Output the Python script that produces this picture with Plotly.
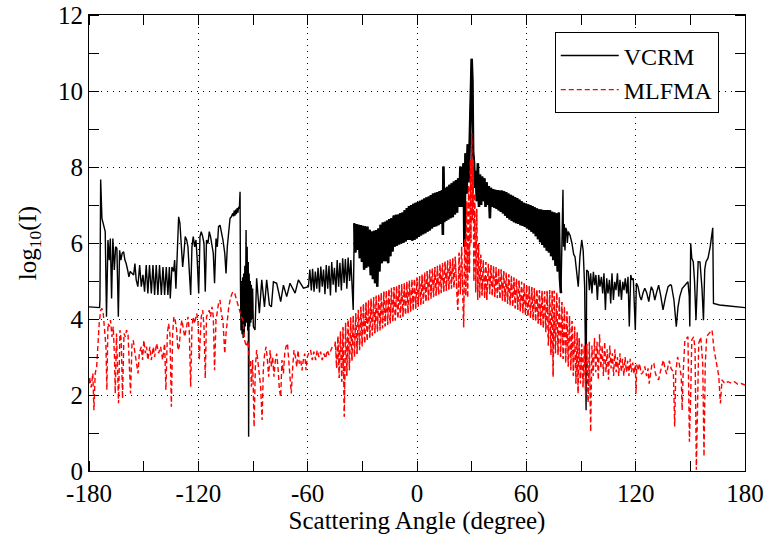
import plotly.graph_objects as go

# ---------------- VCRM (black, solid) ----------------
VCRM_A = [(-180.0,4.32),(-177.0,4.31),(-174.2,4.30),(-174.0,4.50),(-173.6,7.67),(-172.9,6.65),(-171.8,6.39),
(-171.1,6.30),(-170.4,4.06),(-169.6,6.08),(-168.9,5.55),(-168.3,6.12),(-167.6,4.54),(-166.9,6.12),(-166.1,5.29),
(-165.4,5.90),(-164.7,5.86),(-163.9,4.06),(-163.2,5.81),(-162.5,5.55),(-161.8,5.73),(-161.0,5.77),(-160.3,5.55),
(-159.6,5.46),(-158.8,5.29),(-158.1,5.11),(-157.4,5.25),(-156.4,5.20),(-155.5,5.16),(-154.8,5.46),(-154.1,5.03),
(-153.2,4.85),(-152.2,5.42),(-151.3,4.85),(-150.4,5.16),(-149.5,4.72),(-148.6,5.42),(-147.7,4.67),(-146.8,5.42),
(-145.8,4.67),(-144.9,5.42),(-144.0,4.63),(-143.1,5.42),(-142.2,4.63),(-141.3,5.42),(-140.3,4.63),(-139.4,5.37),
(-138.5,4.63),(-137.6,5.37),(-136.7,4.63),(-135.9,5.37),(-135.4,4.54),(-134.5,5.37),(-133.6,5.25),(-133.0,5.55),
(-132.3,4.80),(-131.6,5.99),(-130.8,6.69),(-130.1,6.52),(-129.4,5.99),(-128.6,5.37),(-127.9,5.73),(-127.2,6.17),
(-126.4,6.08),(-125.7,5.90),(-125.0,5.29),(-124.2,4.63),(-123.5,5.90),(-122.8,6.17),(-122.0,5.90),(-121.3,6.08),
(-120.6,5.55),(-119.8,4.67),(-119.1,6.17),(-118.4,6.30),(-117.6,6.17),(-116.9,5.99),(-116.2,4.72),(-115.5,6.08),
(-114.7,5.99),(-114.0,6.30),(-113.3,6.17),(-112.5,5.90),(-111.8,5.73),(-111.1,4.94),(-110.3,6.12),(-109.6,5.90),
(-108.9,6.43),(-108.1,6.47),(-107.4,6.30),(-106.5,6.08),(-105.5,5.73),(-104.8,5.20),(-104.1,5.90),(-103.3,6.43),
(-102.6,6.65),(-101.9,6.69),(-101.1,6.78),(-100.7,6.70),(-100.3,6.85),(-99.9,6.72),(-99.5,6.88),(-99.1,6.76),
(-98.7,6.92),(-98.3,6.80),(-97.9,6.95),(-97.5,6.90),(-97.1,7.35),(-96.9,5.03),(-96.6,3.70),(-96.3,5.00),
(-96.0,3.60),(-95.7,5.10),(-95.4,3.50),(-95.1,5.20),(-94.8,3.60),(-94.5,5.40),(-94.2,3.80),(-93.8,6.34),
(-93.5,3.90),(-93.2,5.90),(-92.9,3.70),(-92.6,5.50),(-92.4,0.90),(-92.1,5.20),(-91.8,3.80),(-91.5,5.00),
(-91.2,3.90),(-90.9,4.90),(-90.6,4.00),(-90.2,4.80),(-89.8,3.80),(-88.9,3.71),(-88.0,5.07),(-86.5,4.15),
(-85.2,5.03),(-83.7,4.32),(-82.5,5.03),(-81.0,4.37),(-79.9,4.32),(-78.8,4.98),(-77.0,4.94),(-74.8,4.46),
(-73.3,4.89),(-71.5,4.59),(-69.7,4.94),(-66.9,4.68),(-65.1,5.03),(-62.3,4.81),(-59.6,4.85),
(-58.8,5.30),(-58.0,4.75),(-57.3,5.32),(-56.5,4.72),(-55.8,5.25),(-55.0,4.80),(-54.3,5.35),(-53.5,4.70),
(-52.8,5.38),(-52.0,4.85),(-51.3,5.30),(-50.5,4.65),(-49.8,5.42),(-49.0,4.80),(-48.3,5.40),(-47.5,4.62),
(-46.8,5.50),(-46.0,4.90),(-45.3,5.35),(-44.5,4.70),(-43.8,5.55),(-43.0,4.85),(-42.3,5.48),(-41.5,4.75),
(-40.8,5.60),(-40.0,4.95),(-39.3,5.58),(-38.5,4.80),(-37.8,5.62),(-37.0,5.00),(-36.3,5.55),(-35.6,4.90),
(-35.0,4.24)]

VCRM_B = [(-34.4,6.52),(-33.8,5.75),(-33.2,6.50),(-32.6,5.82),(-32.0,6.48),(-31.4,5.60),(-30.8,6.47),(-30.2,5.50),
(-29.6,6.45),(-29.0,5.30),(-28.4,6.44),(-27.8,5.35),(-27.2,6.43),(-26.6,5.38),(-26.0,6.35),(-25.4,5.15),
(-24.8,6.30),(-24.2,5.05),(-23.6,6.32),(-23.0,4.94),(-22.4,6.34),(-21.8,4.85),(-21.2,6.38),(-20.6,5.25),
(-20.0,6.48),(-19.4,5.47),(-18.8,6.54),(-18.2,5.52),(-17.6,6.56),(-17.0,5.52),(-16.4,6.59),(-15.8,5.47),
(-15.2,6.63),(-14.6,5.65),(-14.0,6.66),(-13.4,5.78),(-12.8,6.72),(-12.2,5.90),(-11.6,6.74),(-11.0,5.93),
(-10.4,6.75),(-9.8,5.96),(-9.2,6.78),(-8.6,5.99),(-8.0,6.80),(-7.4,6.01),(-6.8,6.86),(-6.2,6.04),
(-5.6,6.92),(-5.0,6.08),(-4.4,6.97),(-3.8,6.08),(-3.2,7.00),(-2.6,6.06),(-2.0,7.03),(-1.4,6.08),
(-0.8,7.06),(-0.2,6.12),(0.4,7.08),(1.0,6.16),(1.6,7.11),(2.2,6.20),(2.8,7.14),(3.4,6.23),
(4.0,7.17),(4.6,6.26),(5.2,7.20),(5.8,6.30),(6.4,7.22),(7.0,6.33),(7.6,7.26),(8.2,6.38),
(8.8,7.30),(9.4,6.42),(10.0,7.32),(10.6,6.44),(11.2,7.34),(11.8,6.47),(12.4,7.37),(13.0,6.50),
(13.6,7.39),(14.2,6.21),(14.5,8.01),(15.0,6.55),(15.4,7.45),(16.0,6.58),(16.6,7.48),(17.2,6.62),
(17.8,7.53),(18.4,6.65),(19.0,7.57),(19.6,6.68),(20.2,7.62),(20.8,6.75),(21.4,7.66),(22.0,6.80),
(22.6,7.70),(23.2,6.95),(23.8,8.01),(24.4,6.95),(25.0,7.85),(25.6,8.10),(26.0,5.90),(26.6,8.36),
(27.2,7.30),(27.8,8.60),(28.4,7.60),(29.0,9.20),(29.5,9.90),(30.0,10.85),(30.4,10.30),(30.8,8.40),
(31.3,8.10),(31.8,7.45),(32.3,7.90),(32.8,7.10),(33.4,8.10),(34.0,6.95),(34.6,7.80),(35.2,7.00),
(35.8,7.75),(36.4,7.10),(37.0,7.70),(37.6,6.95),(38.2,7.60),(38.8,7.00),(39.4,7.50),(40.0,6.65),
(40.6,7.45),(41.2,6.95),(41.8,7.42),(42.4,6.93),(43.0,7.40),(43.6,6.90),(44.2,7.39),(44.8,6.86),
(45.4,7.38),(46.0,6.82),(46.6,7.38),(47.2,6.78),(47.8,7.36),(48.4,6.72),(49.0,7.34),(49.6,6.66),
(50.2,7.30),(50.8,6.62),(51.4,7.27),(52.0,6.58),(52.6,7.24),(53.2,6.55),(53.8,7.21),(54.4,6.52),
(55.0,7.18),(55.6,6.50),(56.2,7.14),(56.8,6.47),(57.4,7.10),(58.0,6.45),(58.6,7.06),(59.2,6.42),
(59.8,7.04),(60.4,6.38),(61.0,7.02),(61.6,6.35),(62.2,7.00),(62.8,6.30),(63.4,6.97),(64.0,6.25),
(64.6,6.94),(65.2,6.18),(65.8,6.91),(66.4,6.10),(67.0,6.89),(67.6,6.02),(68.2,6.88),(68.8,5.95),
(69.4,6.87),(70.0,5.88),(70.6,6.87),(71.2,5.80),(71.8,6.87),(72.4,5.75),(73.0,6.86),(73.6,5.65),
(74.2,6.82),(74.8,5.55),(75.4,6.80),(76.0,5.40),(76.6,6.78),(77.2,5.25),(77.8,6.80),(78.4,5.10),
(79.0,4.68)]

VCRM_C = [(79.6,6.20),(80.1,7.40),(80.4,5.90),(80.8,6.50),(81.2,5.80),(81.6,6.40),(82.1,6.34),(82.5,6.00),
(83.0,6.30),(84.0,6.20),(85.0,6.00),(86.0,5.70),(86.7,5.64),(87.6,5.20),(88.5,4.85),(89.4,5.64),
(90.4,6.08),(91.2,5.80),(92.0,4.85),(92.8,1.60),(93.1,5.29),(94.0,5.24),(94.6,4.76),(95.3,5.20),
(96.0,4.67),(96.8,5.24),(97.5,4.89),(98.2,5.16),(99.0,4.50),(99.7,5.16),(100.4,4.85),(101.2,5.11),
(101.9,4.67),(102.6,5.20),(103.4,4.24),(104.1,5.07),(104.8,4.67),(105.6,5.03),(106.3,4.41),(107.0,5.20),
(107.8,4.50),(108.5,4.98),(109.2,4.76),(110.0,5.20),(110.7,4.59),(111.4,5.03),(112.2,4.50),(112.9,4.98),
(113.6,4.76),(114.3,5.07),(115.1,4.67),(115.8,5.11),(116.5,3.80),(117.3,5.16),(118.0,5.03),(118.7,5.07),
(119.5,4.06),(119.8,3.71),(120.4,4.94),(121.3,4.85),(122.3,4.60),(123.1,4.50),(124.1,4.70),(125.0,4.81),
(126.0,4.70),(127.2,4.46),(128.0,4.70),(128.6,4.85),(129.5,4.75),(130.5,4.50),(131.5,4.70),(132.6,4.89),
(133.8,4.60),(135.0,4.24),(136.5,4.60),(137.8,4.85),(139.0,4.90),(139.6,4.89),(141.0,4.50),(142.3,3.80),
(143.2,4.30),(144.2,4.59),(145.5,4.80),(146.9,4.89),(148.7,4.98),(149.4,4.60),(149.7,3.80),(150.2,5.99),
(150.8,5.60),(151.6,5.51),(152.3,5.00),(153.1,3.97),(153.8,5.30),(154.3,5.51),(155.3,5.50),(156.4,4.80),
(157.2,3.97),(157.9,5.30),(158.6,5.51),(159.7,5.60),(160.9,5.90),(161.6,6.15),(162.3,6.40),(162.7,4.41),
(166.0,4.37),(170.0,4.35),(175.0,4.32),(180.0,4.30)]

# ---------------- MLFMA (red, dashed) ----------------
MLFMA_A = [(-180.0,2.30),(-179.7,2.48),(-178.8,2.20),(-177.9,2.57),(-177.3,1.60),(-176.6,2.57),(-175.8,2.74),
(-175.1,3.44),(-174.4,3.88),(-173.6,4.23),(-172.9,4.28),(-172.2,4.15),(-171.5,3.80),(-170.7,3.27),(-170.2,2.13),
(-169.6,3.88),(-168.9,3.80),(-168.2,3.97),(-167.4,3.53),(-166.7,3.80),(-166.0,3.00),(-165.6,2.04),(-164.9,3.62),
(-164.5,3.10),(-163.8,1.78),(-163.0,3.71),(-162.3,3.44),(-161.6,1.91),(-160.8,3.62),(-160.1,3.53),(-159.4,3.71),
(-158.6,3.62),(-157.9,3.00),(-157.2,2.04),(-156.4,3.36),(-155.7,3.44),(-155.0,3.18),(-154.3,2.92),(-153.1,2.57),
(-152.4,3.10),(-151.3,3.27),(-150.6,2.92),(-149.9,3.44),(-149.1,3.10),(-148.4,3.27),(-147.7,2.92),(-146.6,3.27),
(-145.8,2.92),(-144.7,3.27),(-144.0,3.00),(-142.9,3.36),(-141.8,3.10),(-140.7,3.27),(-139.6,2.92),(-138.5,3.36),
(-137.8,2.13),(-137.0,3.62),(-136.3,3.88),(-135.6,3.62),(-134.8,1.69),(-134.1,3.62),(-133.4,4.06),(-132.7,3.97),
(-131.9,3.71),(-131.2,3.18),(-130.5,3.27),(-129.7,3.80),(-129.0,3.97),(-128.3,3.71),(-127.5,3.53),(-126.4,3.80),
(-125.7,4.06),(-125.0,3.71),(-124.2,2.22),(-123.5,3.80),(-122.8,4.06),(-122.0,3.88),(-120.9,4.15),(-120.2,3.97),
(-119.5,2.92),(-118.4,4.06),(-117.6,4.23),(-116.9,3.80),(-116.2,2.44),(-115.5,4.06),(-114.7,4.15),(-114.0,4.23),
(-113.3,4.06),(-112.5,4.32),(-111.8,4.06),(-111.1,2.65),(-110.3,3.97),(-109.6,4.23),(-108.9,4.41),(-108.1,4.50),
(-107.4,4.15),(-106.5,3.97),(-105.5,3.09),(-104.8,3.62),(-104.1,3.97),(-103.3,4.32),(-102.2,4.58),(-101.1,4.72),
(-100.0,4.67),(-99.1,4.50),(-98.2,4.32),(-97.3,4.15),(-96.4,4.06),(-95.5,3.97),(-94.6,3.44),(-93.6,3.27),
(-92.7,3.44),(-91.8,2.74),(-91.3,2.92),(-90.9,2.22),(-90.2,2.92),(-89.4,1.16),(-88.7,2.74),(-88.0,3.18),
(-87.3,2.92),(-86.5,2.48),(-85.8,2.22),(-85.0,1.34),(-84.3,2.74),(-83.6,3.09),(-82.8,3.27),(-82.1,2.92),
(-81.4,2.48),(-80.6,3.18),(-79.9,2.74),(-79.2,3.00),(-78.5,2.48),(-77.7,2.92),(-77.0,3.09),(-76.3,2.74),
(-75.5,2.13),(-74.8,1.95),(-74.1,2.92),(-73.3,2.57),(-72.6,3.09),(-71.9,3.27),(-71.1,3.36),(-70.4,2.92),
(-69.7,2.39),(-69.0,2.04),(-68.2,2.74),(-67.5,3.18),(-66.7,3.00),(-66.0,2.74),(-65.3,3.18),(-64.6,2.83),
(-63.8,2.92),(-63.1,2.65),(-62.4,2.92),(-61.6,3.09),(-60.9,2.65),(-60.2,3.00),(-59.5,3.09),(-58.4,3.18),
(-57.5,2.92),(-56.6,3.14),(-55.6,2.92),(-54.8,3.18),(-53.8,3.00),(-52.9,3.14),(-52.0,2.92),(-51.1,3.09),
(-50.2,2.96),(-49.2,3.18),(-48.3,3.05),(-47.4,3.14),(-46.5,3.27),(-45.2,3.27)]

MLFMA_B = [(-44.8,3.40),(-44.1,2.70),(-43.4,3.55),(-42.7,2.45),(-42.0,3.68),(-41.3,2.35),(-40.6,3.78),(-39.9,1.43),
(-39.2,3.90),(-38.5,2.50),(-37.8,3.98),(-37.1,2.65),(-36.4,4.04),(-35.7,2.90),(-35.0,4.10),(-34.3,3.00),
(-33.6,4.16),(-32.9,3.08),(-32.2,4.24),(-31.5,3.18),(-30.8,4.32),(-30.1,3.28),(-29.4,4.40),(-28.7,3.35),
(-28.0,4.44),(-27.3,3.42),(-26.6,4.49),(-25.9,3.50),(-25.2,4.54),(-24.5,3.56),(-23.8,4.58),(-23.1,3.62),
(-22.4,4.62),(-21.7,3.66),(-21.0,4.65),(-20.3,3.70),(-19.6,4.69),(-18.9,3.75),(-18.2,4.72),(-17.5,3.80),
(-16.8,4.75),(-16.1,3.84),(-15.4,4.79),(-14.7,3.88),(-14.0,4.82),(-13.3,3.92),(-12.6,4.84),(-11.9,3.96),
(-11.2,4.87),(-10.5,4.00),(-9.8,4.90),(-9.1,4.03),(-8.4,4.92),(-7.7,4.06),(-7.0,4.95),(-6.3,4.10),
(-5.6,4.98),(-4.9,4.15),(-4.2,5.01),(-3.5,4.19),(-2.8,5.04),(-2.1,4.23),(-1.4,5.06),(-0.7,4.27),
(0.0,5.10),(0.7,4.32),(1.4,5.13),(2.1,4.36),(2.8,5.17),(3.5,4.40),(4.2,5.22),(4.9,4.45),
(5.6,5.26),(6.3,4.49),(7.0,5.30),(7.7,4.53),(8.4,5.33),(9.1,4.57),(9.8,5.37),(10.5,4.61),
(11.2,5.40),(11.9,4.64),(12.6,5.44),(13.3,4.68),(14.0,5.47),(14.7,4.71),(15.4,5.51),(16.1,4.74),
(16.8,5.54),(17.5,4.77),(18.2,5.57),(18.9,4.80),(19.6,5.60),(20.3,4.82),(21.0,5.64),(21.7,4.85),
(22.4,4.24),(23.1,5.75),(23.8,4.65),(24.5,5.90),(25.2,4.40),(25.6,3.78),(26.2,6.10),(26.8,4.60),
(27.3,7.10),(27.8,4.55),(28.3,7.50),(28.8,5.20),(29.3,8.20),(29.6,6.00),(30.0,8.89),(30.4,6.60),
(30.8,8.20),(31.2,5.00),(31.7,7.30),(32.2,4.70),(32.8,6.90),(33.3,4.50),(33.8,6.00),(34.4,4.55),
(35.0,5.70),(35.7,4.62),(36.4,5.55),(37.1,4.55),(37.8,5.50),(38.3,4.50),(39.2,5.45),(39.9,4.65),
(40.6,5.42),(41.3,4.60),(42.0,5.40),(42.7,4.58),(43.4,5.37),(44.1,4.55),(44.8,5.33),(45.5,4.52),
(46.2,5.30),(46.9,4.48),(47.6,5.26),(48.3,4.45),(49.0,5.22),(49.7,4.40),(50.4,5.18),(51.1,4.36),
(51.8,5.14),(52.5,4.32),(53.2,5.10),(53.9,4.28),(54.6,5.06),(55.3,4.24),(56.0,5.02),(56.7,4.20),
(57.4,4.98),(58.1,4.15),(58.8,4.94),(59.5,4.10),(60.2,4.90),(60.9,4.06),(61.6,4.87),(62.3,4.02),
(63.0,4.84),(63.7,3.98),(64.4,4.81),(65.1,3.93),(65.8,4.78),(66.5,3.88),(67.2,4.76),(67.9,3.82),
(68.6,4.74),(69.3,3.76),(70.0,4.73),(70.7,3.65),(71.4,4.74),(72.1,3.30),(72.8,4.76),(73.5,3.05),
(74.2,4.76),(74.7,2.48),(75.3,4.74),(76.0,3.10),(76.7,4.70),(77.4,3.05),(78.1,4.58),(78.8,3.00),
(79.5,4.45),(80.2,2.95),(80.9,4.32),(81.6,2.85),(82.3,4.20),(83.0,2.75),(83.7,4.08),(84.4,2.65),
(85.1,3.95),(85.8,2.50),(86.5,3.80),(87.2,2.30),(87.9,3.65),(88.4,2.04),(89.0,3.50),(89.7,2.30),
(90.4,3.35),(91.1,2.20),(91.8,3.30),(92.5,2.00),(93.2,3.35),(93.9,1.80),(94.6,3.40),(95.3,1.04)]

MLFMA_C = [(96.0,3.30),(96.7,2.50),(97.4,3.50),(98.1,2.60),(98.8,3.40),(99.5,2.40),(100.2,3.60),(100.9,2.70),
(101.6,3.30),(102.3,2.50),(103.0,3.40),(103.7,2.60),(104.4,3.20),(105.1,2.40),(105.8,3.30),(106.5,2.70),
(107.2,3.10),(107.9,2.50),(108.6,3.20),(109.3,2.60),(110.0,3.00),(110.7,2.50),(111.4,3.10),(112.1,2.60),
(112.8,2.95),(113.5,2.50),(114.2,3.00),(114.9,2.60),(115.6,2.90),(116.3,2.50),(117.0,2.95),(117.7,2.60),
(118.4,2.85),(119.1,2.55),(119.8,2.80),(120.2,2.04),(120.6,2.80),(121.3,2.65),(122.1,2.83),(123.1,2.55),
(124.0,2.60),(125.0,2.75),(126.0,2.50),(126.8,2.70),(127.4,2.30),(128.4,2.60),(129.0,2.83),(130.0,2.83),
(130.7,2.60),(131.6,2.45),(132.6,2.40),(133.5,2.60),(134.4,2.75),(135.2,2.92),(136.1,2.70),(137.0,2.55),
(137.9,2.80),(138.5,2.90),(139.4,2.70),(140.7,2.60),(141.4,1.17),(142.0,2.60),(143.0,3.00),(144.0,2.80),
(145.0,2.50),(145.5,1.60),(146.0,2.50),(147.0,3.45),(148.7,3.53),(149.5,0.77),(150.2,2.00),(150.8,3.45),
(151.8,3.53),(152.6,3.20),(153.3,0.03),(154.0,2.50),(154.6,3.36),(155.7,3.53),(156.8,2.83),(157.5,0.38),
(158.2,2.83),(159.0,3.55),(160.5,3.62),(161.9,3.71),(163.0,3.20),(164.3,2.83),(165.6,2.50),(166.5,1.78),
(167.4,2.40),(168.9,2.30),(170.7,2.35),(172.5,2.31),(174.3,2.35),(176.0,2.28),(178.0,2.30),(180.0,2.26)]

X_TICKS = [-180, -120, -60, 0, 60, 120, 180]
Y_TICKS = [0, 2, 4, 6, 8, 10, 12]

vcrm = VCRM_A + VCRM_B + VCRM_C
mlfma = MLFMA_A + MLFMA_B + MLFMA_C

fig = go.Figure()
fig.add_trace(go.Scatter(x=[p[0] for p in vcrm], y=[p[1] for p in vcrm], mode="lines", name="VCRM",
                         legendgroup="v", line=dict(color="black", width=1.4)))
# dense fast-oscillating part drawn thicker so it reads as a solid band
fig.add_trace(go.Scatter(x=[p[0] for p in VCRM_B], y=[p[1] for p in VCRM_B], mode="lines", name="VCRM",
                         legendgroup="v", showlegend=False, line=dict(color="black", width=2.6)))
fig.add_trace(go.Scatter(x=[p[0] for p in mlfma], y=[p[1] for p in mlfma], mode="lines", name="MLFMA",
                         legendgroup="m", line=dict(color="#ff0000", width=1.4, dash="5px,3px")))
fig.add_trace(go.Scatter(x=[p[0] for p in MLFMA_B], y=[p[1] for p in MLFMA_B], mode="lines", name="MLFMA",
                         legendgroup="m", showlegend=False, line=dict(color="#ff0000", width=1.1, dash="3px,6px")))

FONT = "Liberation Serif"
axis_common = dict(showline=True, linecolor="black", linewidth=1.2, mirror="ticks", zeroline=False,
                   showgrid=True, gridcolor="black", gridwidth=1, griddash="1px,5px", ticks="",
                   tickfont=dict(family=FONT, size=25, color="black"))

fig.update_xaxes(range=[-180, 180], tickvals=X_TICKS, ticktext=[str(v) for v in X_TICKS],
                 minor=dict(dtick=30, tick0=-180, ticks="inside", ticklen=10, tickcolor="black", showgrid=False),
                 title=dict(text="Scattering Angle (degree)", font=dict(family=FONT, size=25, color="black"), standoff=3),
                 **axis_common)
fig.update_yaxes(range=[0, 12], tickvals=Y_TICKS, ticktext=[str(v) for v in Y_TICKS],
                 minor=dict(dtick=1, tick0=0, ticks="inside", ticklen=10, tickcolor="black", showgrid=False),
                 title=dict(text="log<sub>10</sub>(I)", font=dict(family=FONT, size=25, color="black"), standoff=14),
                 **axis_common)

fig.update_layout(width=769, height=537, margin=dict(l=89, r=24, t=15, b=66, autoexpand=False),
                  paper_bgcolor="white", plot_bgcolor="white",
                  font=dict(family=FONT, size=25, color="black"),
                  legend=dict(x=0.71, y=0.962, xanchor="left", yanchor="top", bgcolor="white",
                              bordercolor="black", borderwidth=1, itemwidth=58,
                              font=dict(family=FONT, size=24, color="black"), tracegroupgap=0))

fig.write_html("out.html")
